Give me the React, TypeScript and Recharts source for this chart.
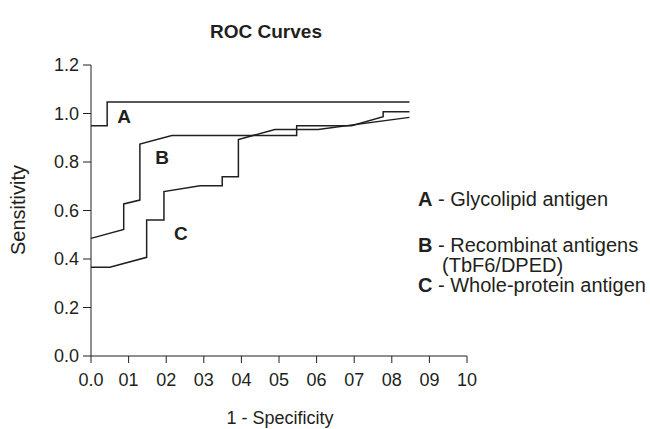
import { LineChart, Line, XAxis, YAxis, ReferenceDot } from 'recharts';

// ROC curves (x = 1 - specificity, y = sensitivity)
const curveA = [
  { x: 0, y: 0.95 },
  { x: 0.043, y: 0.95 },
  { x: 0.043, y: 1.047 },
  { x: 0.847, y: 1.047 },
];

const curveB = [
  { x: 0, y: 0.485 },
  { x: 0.087, y: 0.522 },
  { x: 0.087, y: 0.627 },
  { x: 0.13, y: 0.643 },
  { x: 0.13, y: 0.874 },
  { x: 0.215, y: 0.909 },
  { x: 0.547, y: 0.909 },
  { x: 0.547, y: 0.95 },
  { x: 0.693, y: 0.95 },
  { x: 0.777, y: 0.987 },
  { x: 0.777, y: 1.007 },
  { x: 0.847, y: 1.007 },
];

const curveC = [
  { x: 0, y: 0.366 },
  { x: 0.05, y: 0.366 },
  { x: 0.148, y: 0.407 },
  { x: 0.148, y: 0.561 },
  { x: 0.194, y: 0.561 },
  { x: 0.194, y: 0.678 },
  { x: 0.29, y: 0.702 },
  { x: 0.349, y: 0.702 },
  { x: 0.349, y: 0.739 },
  { x: 0.392, y: 0.739 },
  { x: 0.392, y: 0.893 },
  { x: 0.489, y: 0.934 },
  { x: 0.604, y: 0.934 },
  { x: 0.847, y: 0.984 },
];

const xTicks = [0, 0.1, 0.2, 0.3, 0.4, 0.5, 0.6, 0.7, 0.8, 0.9, 1.0];
const xTickLabels = ['0.0', '01', '02', '03', '04', '05', '06', '07', '08', '09', '10'];
const yTicks = [0, 0.2, 0.4, 0.6, 0.8, 1.0, 1.2];

const legendItems = [
  { key: 'A', text: 'Glycolipid antigen' },
  { key: 'B', text: 'Recombinat antigens', sub: '(TbF6/DPED)' },
  { key: 'C', text: 'Whole-protein antigen' },
];

const font = '"Liberation Sans", Arial, sans-serif';
const ink = '#231f20';

export default function App() {
  const tick = { fill: ink, fontSize: 18, fontFamily: font };
  const letter = (v: string) => ({
    value: v,
    position: 'center' as const,
    fill: ink,
    fontSize: 19,
    fontWeight: 'bold',
    fontFamily: font,
  });

  return (
    <div style={{ position: 'absolute', left: 0, top: 0, width: 650, height: 429, background: '#fff', fontFamily: font, color: ink }}>
      <LineChart width={650} height={429} margin={{ top: 65, right: 183, bottom: 0, left: 0 }}>
        <XAxis
          type="number"
          dataKey="x"
          domain={[0, 1]}
          ticks={xTicks}
          interval={0}
          tickFormatter={(v: number) => xTickLabels[Math.round(v * 10)]}
          height={73}
          tickSize={7}
          tickMargin={10}
          tick={tick}
          stroke={ink}
          allowDuplicatedCategory={false}
        />
        <YAxis
          type="number"
          domain={[0, 1.2]}
          ticks={yTicks}
          interval={0}
          tickFormatter={(v: number) => v.toFixed(1)}
          width={91}
          tickSize={8}
          tickMargin={4}
          tick={tick}
          stroke={ink}
        />
        <Line data={curveA} dataKey="y" type="linear" stroke={ink} strokeWidth={1.5} dot={false} isAnimationActive={false} />
        <Line data={curveB} dataKey="y" type="linear" stroke={ink} strokeWidth={1.5} dot={false} isAnimationActive={false} />
        <Line data={curveC} dataKey="y" type="linear" stroke={ink} strokeWidth={1.5} dot={false} isAnimationActive={false} />
        <ReferenceDot x={0.088} y={0.99} r={0} fill="none" stroke="none" label={letter('A')} />
        <ReferenceDot x={0.189} y={0.821} r={0} fill="none" stroke="none" label={letter('B')} />
        <ReferenceDot x={0.239} y={0.507} r={0} fill="none" stroke="none" label={letter('C')} />
      </LineChart>

      <div style={{ position: 'absolute', left: 166, width: 200, top: 21, textAlign: 'center', fontSize: 19, fontWeight: 'bold' }}>
        ROC Curves
      </div>
      <div style={{ position: 'absolute', left: 18, top: 210, fontSize: 20, transform: 'translate(-50%, -50%) rotate(-90deg)', whiteSpace: 'nowrap' }}>
        Sensitivity
      </div>
      <div style={{ position: 'absolute', left: 180, width: 200, top: 408, textAlign: 'center', fontSize: 18 }}>
        1 - Specificity
      </div>

      <div style={{ position: 'absolute', left: 418, top: 189, fontSize: 20, lineHeight: '20px' }}>
        {legendItems.map((it, i) => (
          <div key={it.key} style={{ marginBottom: i === 0 ? 26 : 0 }}>
            <div><b>{it.key}</b> - {it.text}</div>
            {it.sub && <div style={{ paddingLeft: 24 }}>{it.sub}</div>}
          </div>
        ))}
      </div>
    </div>
  );
}
